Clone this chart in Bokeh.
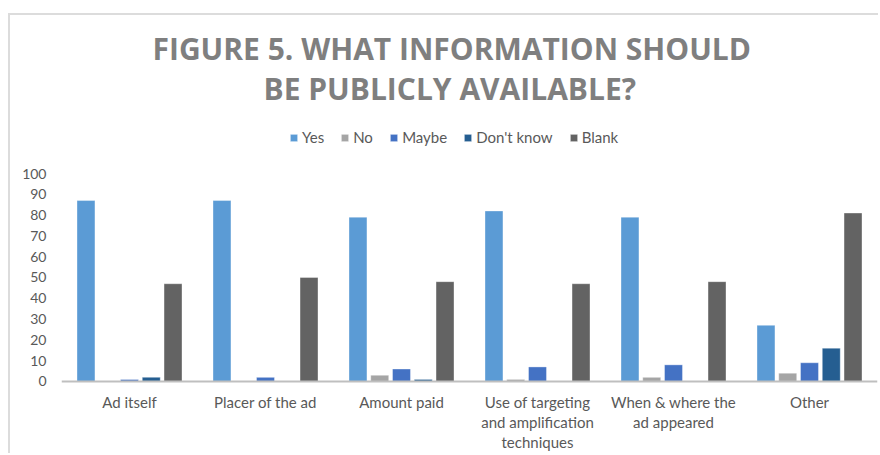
from bokeh.plotting import figure
from bokeh.models import FactorRange, Legend, LegendItem, Title, ColumnDataSource, Span
from bokeh.core.properties import value
from bokeh.transform import dodge
from bokeh.embed import file_html
from bokeh.resources import INLINE

# ---- data ----
categories = ["Ad itself", "Placer of the ad", "Amount paid",
              "Use of targeting and amplification techniques",
              "When & where the ad appeared", "Other"]
tick_labels = ["Ad itself", "Placer of the ad", "Amount paid",
               "Use of targeting\nand amplification\ntechniques",
               "When & where the\nad appeared", "Other"]
series_names = ["Yes", "No", "Maybe", "Don't know", "Blank"]
yes = [87, 87, 79, 82, 79, 27]
no = [0, 0, 3, 1, 2, 4]
maybe = [1, 2, 6, 7, 8, 9]
dont_know = [2, 0, 1, 0, 0, 16]
blank = [47, 50, 48, 47, 48, 81]
y_ticks = [0, 10, 20, 30, 40, 50, 60, 70, 80, 90, 100]
title_lines = ["FIGURE 5. WHAT INFORMATION SHOULD", "BE PUBLICLY AVAILABLE?"]

colors = ["#5B9BD5", "#A5A5A5", "#4472C4", "#255E91", "#636363"]
cols = ["yes", "no", "maybe", "dk", "blank"]
offsets = [-0.32, -0.16, 0.0, 0.16, 0.32]

src = ColumnDataSource(dict(cat=categories, label=tick_labels, yes=yes, no=no,
                            maybe=maybe, dk=dont_know, blank=blank))

LABEL_FONT = "Lato"
TEXT_COLOR = "#595959"

# frame spans below the zero line so the category labels can sit under it
p = figure(x_range=FactorRange(factors=categories, range_padding=0),
           y_range=(-35.58, 130.29), width=870, height=440,
           output_backend="svg", toolbar_location=None, title=None,
           x_axis_location=None,
           min_border_left=51, min_border_right=3,
           min_border_top=95, min_border_bottom=0,
           background_fill_color="white", border_fill_color="white")
p.styles = {"margin-left": "8px", "margin-top": "13px",
            "border-top": "2px solid #DCDCDC", "border-left": "2px solid #DCDCDC"}

items = []
for name, col, c, off in zip(series_names, cols, colors, offsets):
    r = p.vbar(x=dodge("cat", off, range=p.x_range), top=col, width=0.132,
               source=src, fill_color=c, line_color="white", line_alpha=0.35,
               line_width=1)
    items.append(LegendItem(label=name, renderers=[r]))

# category axis: baseline and labels
p.add_layout(Span(location=0, dimension="width", line_color="#BFBFBF", line_width=2))
p.text(x="cat", y=-5.6, text="label", source=src, text_align="center",
       text_baseline="top", text_font=value(LABEL_FONT), text_font_size="15px",
       text_color=TEXT_COLOR, text_line_height=1.1)

legend = Legend(items=items, orientation="horizontal", location=(228, 309),
                margin=0, padding=0, spacing=16, label_standoff=4,
                glyph_width=9, glyph_height=9,
                border_line_color=None, background_fill_alpha=0,
                label_text_font=LABEL_FONT, label_text_font_size="15px",
                label_text_color=TEXT_COLOR)
p.add_layout(legend, "center")

p.add_layout(Title(text=title_lines[1], align="left", text_font="Open Sans",
                   text_font_style="bold", text_font_size="30px",
                   text_color="#7F7F7F", standoff=3, offset=202), "above")
p.add_layout(Title(text=title_lines[0], align="left", text_font="Open Sans",
                   text_font_style="bold", text_font_size="30px",
                   text_color="#7F7F7F", standoff=-8, offset=91), "above")

p.xgrid.grid_line_color = None
p.ygrid.grid_line_color = None
p.outline_line_color = None

ya = p.yaxis[0]
ya.ticker = y_ticks
ya.axis_line_color = None
ya.major_tick_line_color = None
ya.minor_tick_line_color = None
ya.major_label_text_font = LABEL_FONT
ya.major_label_text_font_size = "14px"
ya.major_label_text_color = TEXT_COLOR
ya.major_label_standoff = 9

open("out.html", "w").write(file_html(p, INLINE))
